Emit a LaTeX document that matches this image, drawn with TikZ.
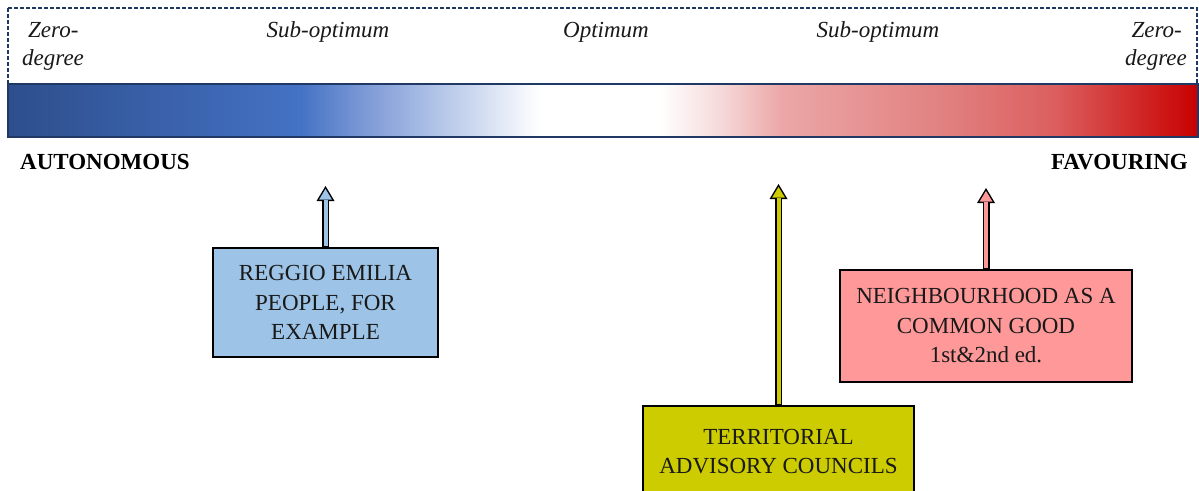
\documentclass[tikz,border=0pt]{standalone}
\usepackage{fontspec}
\setmainfont{Liberation Serif}
\usetikzlibrary{arrows.meta}

\definecolor{navy}{HTML}{1F3864}
\definecolor{gA}{HTML}{2E4E8C}
\definecolor{gB}{HTML}{4472C4}
\definecolor{gC}{HTML}{7D9AD6}
\definecolor{gD}{HTML}{BACAEA}
\definecolor{gE}{HTML}{F6D8D8}
\definecolor{gF}{HTML}{EBA7A7}
\definecolor{gG}{HTML}{E07C7C}
\definecolor{gH}{HTML}{DC5E5E}
\definecolor{gI}{HTML}{C80000}
\definecolor{reggioblue}{HTML}{9DC3E6}
\definecolor{councilyellow}{HTML}{CCCC00}
\definecolor{commonpink}{HTML}{FF9999}

% blue -> white -> red scale; the path box covers 25bp..75bp
\pgfdeclarehorizontalshading{engagement}{100bp}{%
  color(0bp)=(gA); color(25bp)=(gA); color(37.25bp)=(gB);
  color(40bp)=(gC); color(43.5bp)=(gD); color(47.35bp)=(white);
  color(52.4bp)=(white); color(55bp)=(gE); color(57.5bp)=(gF);
  color(65bp)=(gG); color(69bp)=(gH); color(75bp)=(gI); color(100bp)=(gI)}

\newcommand\bxfont{\fontsize{23}{29.5}\selectfont}
\newcommand\lblfont{\fontsize{23}{28}\selectfont\itshape}
\newcommand\poleFont{\fontsize{23}{28}\selectfont\bfseries}

\tikzset{
  scalelabel/.style={inner sep=0pt, font=\lblfont, text=black!90},
  endlabel/.style={inner sep=0pt, font=\poleFont},
  casebox/.style={draw=black, line width=2pt, align=center, inner sep=0pt,
    font=\bxfont, text=black!90},
  shaftout/.style={draw=black, line width=7pt,
    -{Triangle[width=18pt,length=15pt,line width=0pt]}},
  shaftin/.style={draw=#1, line width=4pt, shorten <=1pt, shorten >=2.9pt,
    -{Triangle[width=12.7pt,length=10.6pt,line width=0pt]}},
}

\begin{document}
\begin{tikzpicture}[x=1pt,y=-1pt]
\useasboundingbox (0,0) rectangle (1199,490);

% header strip and colour scale
\draw[navy, line width=1.5pt, dash pattern=on 4pt off 2pt] (8,8) rectangle (1197,84);
\shade[shading=engagement] (8,84) rectangle (1198,137);
\draw[navy, line width=1.5pt] (8,84) rectangle (1198,137);

% scale labels
\node[scalelabel, anchor=base west] (zeroLa) at (28,37) {Zero-};
\node[scalelabel, anchor=base west] (zeroLb) at (22,65) {degree};
\node[scalelabel, anchor=base] (subL) at (328,37) {Sub-optimum};
\node[scalelabel, anchor=base] (opt) at (606,37) {Optimum};
\node[scalelabel, anchor=base] (subR) at (878,37) {Sub-optimum};
\node[scalelabel, anchor=base east] (zeroRa) at (1182,37) {Zero-};
\node[scalelabel, anchor=base east] (zeroRb) at (1187,65) {degree};

\node[endlabel, anchor=base west] (auto) at (20,169) {AUTONOMOUS};
\node[endlabel, anchor=base east] (fav) at (1188,169) {FAVOURING};

% cases
\node[casebox, fill=reggioblue, minimum width=225pt, minimum height=109pt]
  (reggio) at (325.5,302.5) {REGGIO EMILIA\\PEOPLE, FOR\\EXAMPLE};
\node[casebox, fill=commonpink, minimum width=292pt, minimum height=112pt]
  (common) at (986,326) {NEIGHBOURHOOD AS A\\COMMON GOOD\\1st\&2nd ed.};
\node[casebox, fill=councilyellow, minimum width=271pt, minimum height=91pt]
  (council) at (778.5,451.5) {TERRITORIAL\\ADVISORY COUNCILS};

% arrow tips on the scale
\coordinate (tipReggio) at (reggio.north |- 0,186);
\coordinate (tipCouncil) at (council.north |- 0,184);
\coordinate (tipCommon) at (common.north |- 0,188);

% outlined arrows: black outline, coloured core
\draw[shaftout] (reggio.north) -- (tipReggio);
\draw[shaftin=reggioblue] (reggio.north) -- (tipReggio);
\draw[shaftout] (council.north) -- (tipCouncil);
\draw[shaftin=councilyellow] (council.north) -- (tipCouncil);
\draw[shaftout] (common.north) -- (tipCommon);
\draw[shaftin=commonpink] (common.north) -- (tipCommon);
\end{tikzpicture}
\end{document}
